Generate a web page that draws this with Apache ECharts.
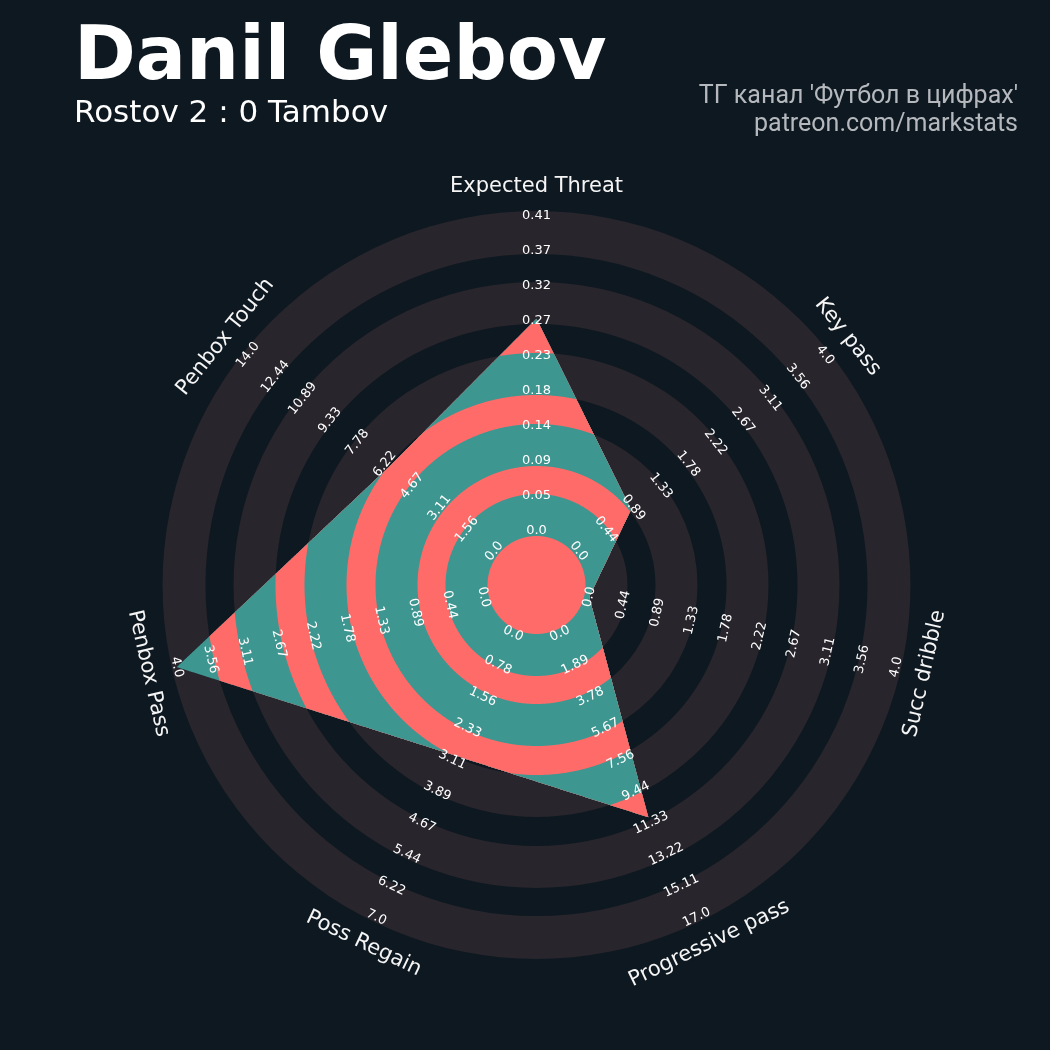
<!DOCTYPE html>
<html>
<head>
<meta charset="utf-8">
<script src="https://cdn.jsdelivr.net/npm/echarts@6/dist/echarts.min.js"></script>
<style>
  html, body { margin: 0; padding: 0; background: #0e1820; }
  #chart { width: 1050px; height: 1050px; }
</style>
</head>
<body>
<div id="chart"></div>
<script>
// radar data
const params = ['Expected Threat', 'Key pass', 'Succ dribble', 'Progressive pass', 'Poss Regain', 'Penbox Pass', 'Penbox Touch']
const lows = [0, 0, 0, 0, 0, 0, 0]
const highs = [0.411, 4, 4, 17, 7, 4, 14]
const values = [0.277, 0.85, 0, 11, 3, 4, 6]
const tickLabels = [
  ['0.0', '0.05', '0.09', '0.14', '0.18', '0.23', '0.27', '0.32', '0.37', '0.41'],
  ['0.0', '0.44', '0.89', '1.33', '1.78', '2.22', '2.67', '3.11', '3.56', '4.0'],
  ['0.0', '0.44', '0.89', '1.33', '1.78', '2.22', '2.67', '3.11', '3.56', '4.0'],
  ['0.0', '1.89', '3.78', '5.67', '7.56', '9.44', '11.33', '13.22', '15.11', '17.0'],
  ['0.0', '0.78', '1.56', '2.33', '3.11', '3.89', '4.67', '5.44', '6.22', '7.0'],
  ['0.0', '0.44', '0.89', '1.33', '1.78', '2.22', '2.67', '3.11', '3.56', '4.0'],
  ['0.0', '1.56', '3.11', '4.67', '6.22', '7.78', '9.33', '10.89', '12.44', '14.0'],
]

// layout (radius axis runs 0..OUTER)
const OUTER = 374
const ringEdges = [49, 91, 119, 161, 190, 232, 261, 303, 331, 374]
const innerR = 54
const spanR = 315
const nameR = 398
const BG = '#0e1820'
const RING = '#28252c'
const TEAL = '#3e9691'
const SALMON = '#ff6b68'

const angleOf = (i) => (i * 360) / params.length
const radiusOf = (i, v) => innerR + ((v - lows[i]) / (highs[i] - lows[i])) * spanR
const rotCw = (a) => (a <= 90 ? a : a < 270 ? a - 180 : a - 360)

const points = values.map((v, i) => [radiusOf(i, v), angleOf(i)])

const chart = echarts.init(document.getElementById('chart'))

function ringItem(info, api) {
  const c = api.coord([0, 0])
  const px = (r) => {
    const p = api.coord([r, 0])
    return Math.hypot(p[0] - c[0], p[1] - c[1])
  }
  const children = []
  for (let k = 0; k + 1 < ringEdges.length; k += 2) {
    children.push({
      type: 'sector',
      shape: { cx: c[0], cy: c[1], r0: px(ringEdges[k]), r: px(ringEdges[k + 1]), startAngle: 0, endAngle: Math.PI * 2 },
      style: { fill: RING },
    })
  }
  return { type: 'group', children }
}

// polygon clipped to each ring edge, drawn outside-in so the bands alternate colour
function radarItem(info, api) {
  if (info.dataIndex !== 0) return null
  const verts = points.map(([r, a]) => {
    const t = (a * Math.PI) / 180
    return [r * Math.sin(t), r * Math.cos(t)]
  })
  const children = []
  for (let k = ringEdges.length - 1; k >= 0; k--) {
    const R = ringEdges[k]
    const pts = []
    const N = 240
    for (let i = 0; i < verts.length; i++) {
      const p0 = verts[i]
      const p1 = verts[(i + 1) % verts.length]
      for (let s = 0; s < N; s++) {
        const x = p0[0] + ((p1[0] - p0[0]) * s) / N
        const y = p0[1] + ((p1[1] - p0[1]) * s) / N
        const rho = Math.hypot(x, y)
        let phi = (Math.atan2(x, y) * 180) / Math.PI
        if (phi < 0) phi += 360
        pts.push(api.coord([Math.min(rho, R), phi]))
      }
    }
    children.push({
      type: 'polygon',
      shape: { points: pts },
      style: { fill: k % 2 === 1 ? TEAL : SALMON },
    })
  }
  return { type: 'group', children }
}

function labelItem(info, api) {
  const children = []
  for (let i = 0; i < params.length; i++) {
    const a = angleOf(i)
    const rot = (-rotCw(a) * Math.PI) / 180
    tickLabels[i].forEach((lab, k) => {
      const v = lows[i] + ((highs[i] - lows[i]) * k) / (tickLabels[i].length - 1)
      const p = api.coord([radiusOf(i, v), a])
      children.push({
        type: 'text',
        x: p[0],
        y: p[1],
        rotation: rot,
        style: { text: lab, fill: '#ffffff', font: '13px "DejaVu Sans"', align: 'center', verticalAlign: 'middle' },
      })
    })
    const q = api.coord([nameR, a])
    children.push({
      type: 'text',
      x: q[0],
      y: q[1],
      rotation: rot,
      style: { text: params[i], fill: '#f5f5f5', font: '21px "DejaVu Sans"', align: 'center', verticalAlign: 'middle' },
    })
  }
  return { type: 'group', children }
}

chart.setOption({
  backgroundColor: BG,
  animation: false,
  polar: { center: [536.5, 585], radius: OUTER },
  angleAxis: { type: 'value', min: 0, max: 360, startAngle: 90, clockwise: true, show: false },
  radiusAxis: { type: 'value', min: 0, max: OUTER, show: false },
  graphic: [
    { type: 'text', x: 74, y: 60, style: { text: 'Danil Glebov', fill: '#ffffff', font: 'bold 74.5px "DejaVu Sans"', align: 'left', verticalAlign: 'middle' } },
    { type: 'text', x: 74, y: 114, style: { text: 'Rostov 2 : 0 Tambov', fill: '#ffffff', font: '31px "DejaVu Sans"', align: 'left', verticalAlign: 'middle' } },
    { type: 'text', x: 1018, y: 97, style: { text: "ТГ канал 'Футбол в цифрах'", fill: '#b5b9bd', font: '25px Roboto', align: 'right', verticalAlign: 'middle' } },
    { type: 'text', x: 1018, y: 125, style: { text: 'patreon.com/markstats', fill: '#b5b9bd', font: '25px Roboto', align: 'right', verticalAlign: 'middle' } },
  ],
  series: [
    { type: 'custom', coordinateSystem: 'polar', z: 1, silent: true, data: [[0, 0]], renderItem: ringItem },
    { type: 'custom', coordinateSystem: 'polar', z: 2, silent: true, data: points, renderItem: radarItem },
    { type: 'custom', coordinateSystem: 'polar', z: 3, silent: true, data: [[0, 0]], renderItem: labelItem },
  ],
})
</script>
</body>
</html>
